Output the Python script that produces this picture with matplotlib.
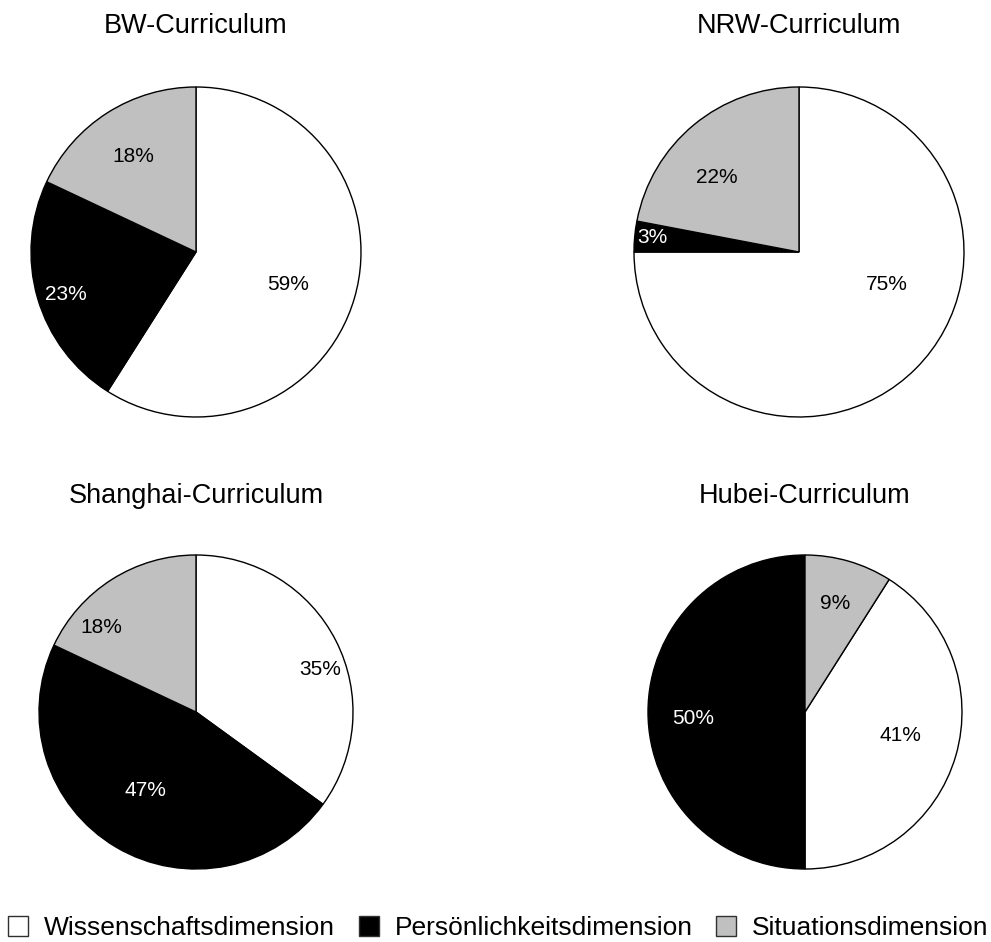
import numpy as np
import matplotlib as mpl
import matplotlib.pyplot as plt
from matplotlib.patches import Patch

mpl.rcParams['font.family'] = ['Liberation Sans', 'DejaVu Sans']

# Anteile der drei Dimensionen je Curriculum (Prozent)
dimensions = ['Wissenschaftsdimension', 'Persönlichkeitsdimension',
              'Situationsdimension']
colors = ['white', 'black', '#c0c0c0']
text_colors = ['black', 'white', 'black']

curricula = ['BW-Curriculum', 'NRW-Curriculum', 'Shanghai-Curriculum',
             'Hubei-Curriculum']
bw = [59, 23, 18]
nrw = [75, 3, 22]
shanghai = [35, 47, 18]
hubei = [41, 50, 9]
shares = [bw, nrw, shanghai, hubei]

# first slice angle (degrees clockwise from 12 o'clock)
first_angle = [0, 0, 0, 32.4]

# label positions inside each pie, in units of the radius (x right, y up)
label_pos = [
    [(0.56, -0.20), (-0.79, -0.26), (-0.38, 0.58)],
    [(0.53, -0.20), (-0.89, 0.09), (-0.50, 0.45)],
    [(0.79, 0.27), (-0.32, -0.50), (-0.60, 0.54)],
    [(0.61, -0.15), (-0.71, -0.04), (0.19, 0.69)],
]

W, H = 991, 942
fig = plt.figure(figsize=(W / 100, H / 100), dpi=100)

# pie centres and radii in pixels (x from left, y from top)
centres = [(196, 252), (799, 252), (196, 712), (805, 712)]
radii = [165, 165, 157, 157]
title_base = [33, 33, 503, 503]

for i, name in enumerate(curricula):
    cx, cy = centres[i]
    r = radii[i]
    ax = fig.add_axes([(cx - r) / W, 1 - (cy + r) / H, 2 * r / W, 2 * r / H])
    wedges, _ = ax.pie(shares[i], colors=colors, startangle=90 - first_angle[i],
                       counterclock=False, radius=1,
                       wedgeprops=dict(edgecolor='black', linewidth=1.0,
                                       clip_on=False))
    ax.set_xlim(-1, 1)
    ax.set_ylim(-1, 1)
    ax.set_aspect('equal')
    ax.axis('off')
    for j, v in enumerate(shares[i]):
        x, y = label_pos[i][j]
        ax.text(x, y, '%d%%' % v, ha='center', va='center', fontsize=15,
                color=text_colors[j])
    fig.text(cx / W, 1 - title_base[i] / H, name, ha='center',
             va='baseline', fontsize=19.5)

handles = [Patch(facecolor=c, edgecolor='#303030', linewidth=1.0)
           for c in colors]
fig.legend(handles, dimensions, loc='center', bbox_to_anchor=(0.503, 0.015),
           ncol=3, frameon=False, fontsize=19, handlelength=0.76,
           handleheight=0.83, handletextpad=0.6, columnspacing=0.9,
           borderpad=0, borderaxespad=0)

fig.savefig('out.png', dpi=100)
